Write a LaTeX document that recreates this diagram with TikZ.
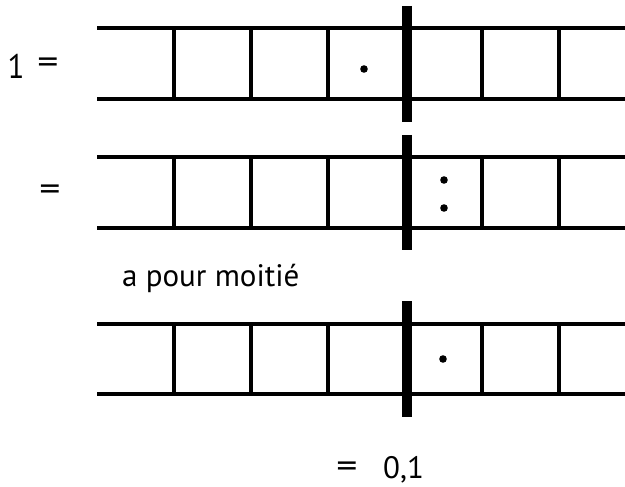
\documentclass[tikz,border=0pt]{standalone}
\usepackage{fontspec}
\setmainfont{PT Sans}
\newcommand{\wideeq}{\scalebox{1.35}[1.1]{=}}
\begin{document}
\begin{tikzpicture}[x=1pt,y=-1pt,
  thin line/.style={line width=3.2pt,line cap=butt},
  thick bar/.style={line width=10pt,line cap=butt},
  dotmark/.style={fill=black},
  lab/.style={font=\fontsize{31}{34}\selectfont,inner sep=0pt}]
\useasboundingbox (0,0) rectangle (625,487);
\foreach \t/\b/\bt/\bb [count=\r] in {28/99/6/122, 157/228/135/250, 324/394/301/417}{
  \draw[thin line] (97,\t) -- (625,\t);
  \draw[thin line] (97,\b) -- (625,\b);
  \foreach \x in {174,251,328,482,559}{
    \draw[thin line] (\x,\t) -- (\x,\b);
  }
  \draw[thick bar] (406.5,\bt) -- (406.5,\bb);
}
\fill[dotmark] (364,69) circle (3.8);
\fill[dotmark] (444,180) circle (3.8);
\fill[dotmark] (444,208) circle (3.8);
\fill[dotmark] (443,359) circle (3.8);
\node[lab] (one) at (16,66) {\scalebox{1}[1.1]{1}};
\node[lab] (eq1) at (48,66) {\wideeq};
\node[lab] (eq2) at (50,193) {\wideeq};
\node[lab,anchor=west] (half) at (122,278) {a pour moitié};
\node[lab] (eq3) at (347,470) {\wideeq};
\node[lab,anchor=west] (res) at (383,470) {0,1};
\end{tikzpicture}
\end{document}
